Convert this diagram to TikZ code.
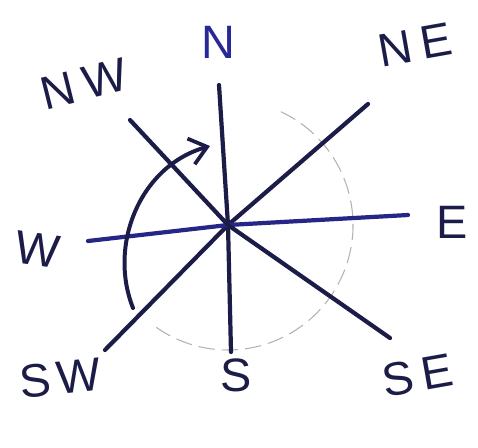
\documentclass[tikz,border=0pt]{standalone}
\usepackage{fontspec}
\setmainfont{Liberation Sans}
\usetikzlibrary{arrows.meta}

\definecolor{ink}{RGB}{28,28,72}
\definecolor{penblue}{RGB}{40,40,150}

\begin{document}
\begin{tikzpicture}[
        x=0.03cm, y=-0.03cm,
        ray/.style={
            draw=ink, line width=3.6pt, line cap=round
        },
        guide/.style={
            draw=gray!60, line width=0.9pt, dash pattern=on 14pt off 6pt
        },
        turn/.style={
            draw=ink, line width=3.4pt, line cap=round,
            -{Straight Barb[length=0.5cm, width=0.8cm, line width=3.2pt]}
        },
        point/.style={
            font=\fontsize{40}{40}\selectfont, text=ink, inner sep=0pt
        }
    ]
        \useasboundingbox (0,0) rectangle (478,447);

        % ----------------------------------------------------
        % Centre and ends of the rays
        % ----------------------------------------------------
        \coordinate (c) at (228,225);
        \coordinate (n) at (219,85);
        \coordinate (s) at (231,352);
        \coordinate (ne) at (368,104);
        \coordinate (sw) at (105,350);
        \coordinate (e) at (408,215);
        \coordinate (w) at (88,241);
        \coordinate (nw) at (130,120);
        \coordinate (se) at (390,338);

        % faint circle behind the rays
        \draw[guide] (c) ++(-65:125) arc[start angle=-65, end angle=125, radius=125];

        % ----------------------------------------------------
        % The four lines through the centre
        % ----------------------------------------------------
        \draw[ray] (n) -- (c) -- (s);
        \draw[ray] (ne) -- (c) -- (sw);
        \draw[ray, draw=penblue!80!ink] (e) -- (c) -- (w);
        \draw[ray] (nw) -- (c) -- (se);

        % turning arrow from SW round to N
        \coordinate (from) at (133,308);
        \coordinate (to) at (210,146);
        \draw[turn] (from) .. controls (108,245) and (140,166) .. (to);

        % ----------------------------------------------------
        % Labels
        % ----------------------------------------------------
        \node[point, text=penblue] (lbl-n) at (218,42) {N};
        \node[point, rotate=14] (lbl-nw) at (84,84) {N\kern8pt W};
        \node[point, rotate=10] (lbl-ne) at (415,45) {N\kern7pt E};
        \node[point] (lbl-e) at (452,222) {E};
        \node[point, rotate=-8] (lbl-w) at (38,250) {W};
        \node[point, rotate=6] (lbl-sw) at (60,378) {S\kern5pt W};
        \node[point] (lbl-s) at (236,375) {S};
        \node[point, rotate=10] (lbl-se) at (418,375) {S\kern7pt E};

    \end{tikzpicture}
\end{document}
